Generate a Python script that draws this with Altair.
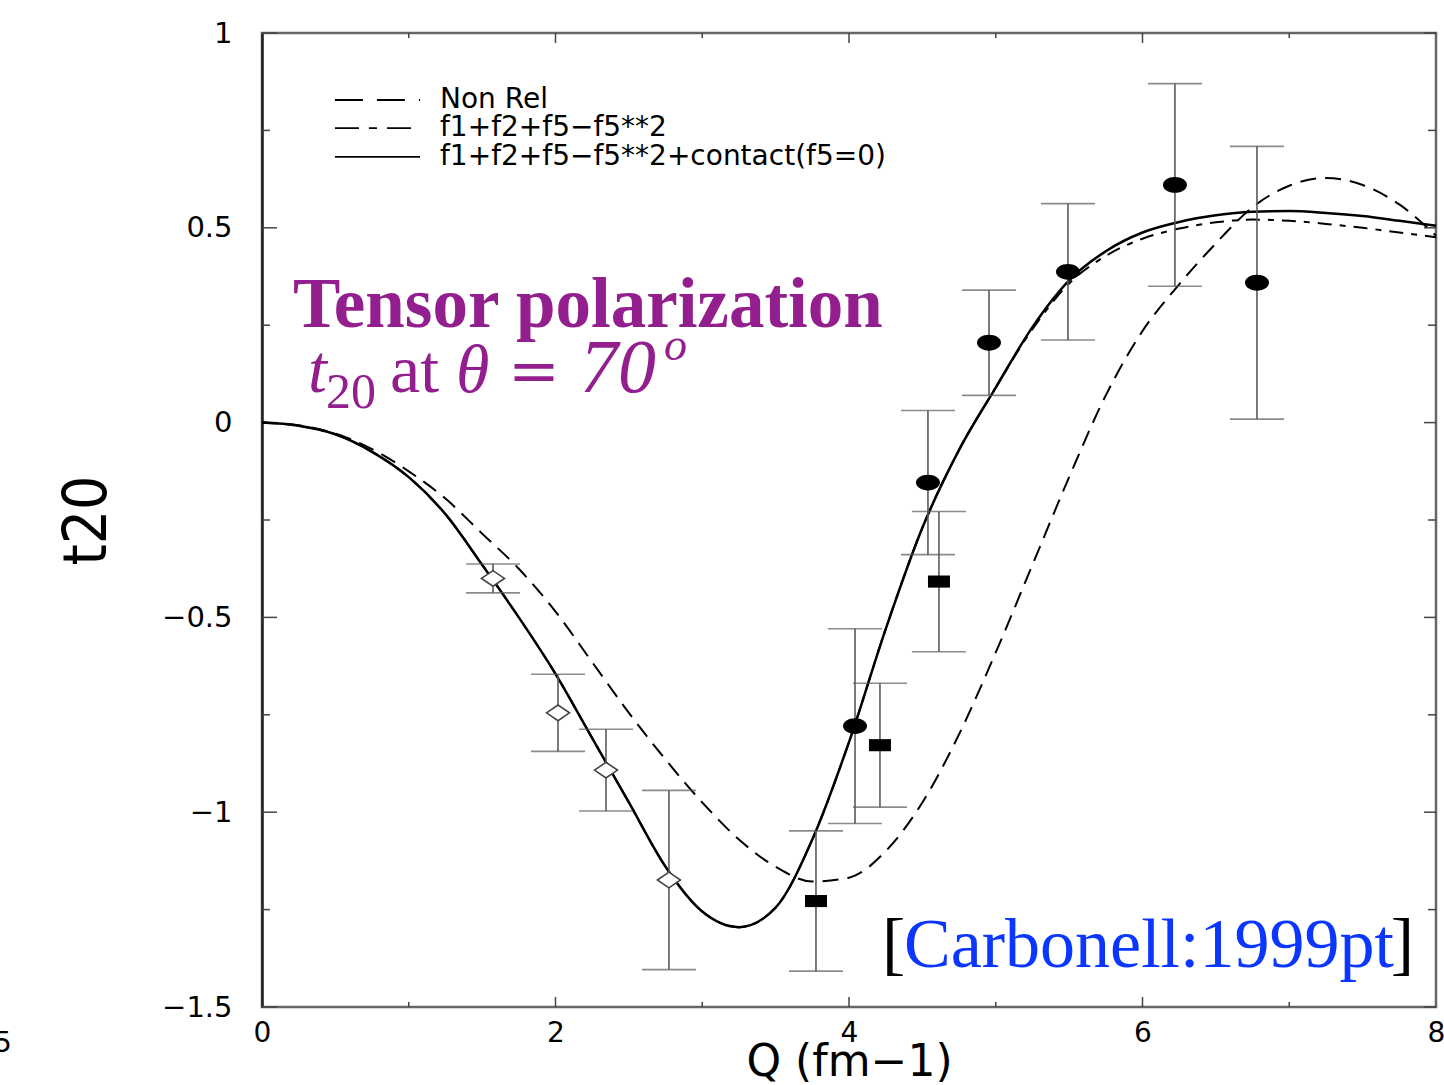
import altair as alt
import pandas as pd

# ---------------- data ----------------
Q = [0.0, 0.25, 0.5, 0.75, 1.0, 1.25, 1.5, 1.75, 2.0, 2.25, 2.5, 2.75, 3.0, 3.25,
     3.5, 3.75, 4.0, 4.25, 4.5, 4.75, 5.0, 5.25, 5.5, 5.75, 6.0, 6.25, 6.5, 6.75,
     7.0, 7.25, 7.5, 7.75, 8.0]

NON_REL = [0.0, -0.007, -0.028, -0.068, -0.125, -0.195, -0.285, -0.375, -0.485,
           -0.615, -0.745, -0.865, -0.975, -1.07, -1.14, -1.178, -1.168, -1.10,
           -0.975, -0.80, -0.59, -0.365, -0.14, 0.07, 0.235, 0.355, 0.46, 0.553,
           0.608, 0.628, 0.61, 0.56, 0.48]

F125 = [0.0, -0.008, -0.03, -0.075, -0.14, -0.235, -0.365, -0.50, -0.645, -0.81,
        -0.975, -1.14, -1.255, -1.295, -1.245, -1.07, -0.82, -0.53, -0.27, -0.07,
        0.09, 0.24, 0.357, 0.428, 0.472, 0.498, 0.514, 0.521, 0.518, 0.51, 0.50,
        0.488, 0.476]

CONTACT = [0.0, -0.008, -0.03, -0.075, -0.14, -0.235, -0.365, -0.50, -0.645, -0.81,
           -0.975, -1.14, -1.255, -1.295, -1.245, -1.07, -0.82, -0.53, -0.27, -0.07,
           0.09, 0.245, 0.365, 0.44, 0.488, 0.515, 0.532, 0.541, 0.543, 0.538, 0.53,
           0.518, 0.505]

DIAM_Q = [1.574, 2.017, 2.344, 2.773]
DIAM_T = [-0.40, -0.745, -0.892, -1.174]
DIAM_E = [0.037, 0.099, 0.105, 0.23]

SQ_Q = [3.775, 4.211, 4.613]
SQ_T = [-1.228, -0.828, -0.408]
SQ_E = [0.18, 0.159, 0.18]

CIR_Q = [4.041, 4.538, 4.954, 5.492, 6.221, 6.780]
CIR_T = [-0.779, -0.154, 0.205, 0.387, 0.610, 0.359]
CIR_E = [0.25, 0.185, 0.135, 0.175, 0.26, 0.35]

LEGEND_LABELS = ["Non Rel", "f1+f2+f5\u2212f5**2", "f1+f2+f5\u2212f5**2+contact(f5=0)"]
X_TICK_LABELS = [0, 2, 4, 6, 8]
Y_TICK_LABELS = [-1.5, -1.0, -0.5, 0.0, 0.5, 1.0]
Y_MINOR = [-1.25, -0.75, -0.25, 0.25, 0.75]
X_MINOR = [1, 3, 5, 7]
X_MAJOR_INNER = [2, 4, 6]

# ---------------- layout ----------------
W, H = 1174, 974
PURPLE = "#931E8E"
BLUE = "#0A36FF"
GREY = "#5a5a5a"

xs = alt.Scale(domain=[0, 8], nice=False, zero=False)
ys = alt.Scale(domain=[-1.5, 1], nice=False, zero=False)

x_axis = alt.Axis(values=X_TICK_LABELS, format="d", ticks=False, domain=False, grid=False,
                  labelFont="DejaVu Sans", labelFontSize=28, labelColor="black",
                  labelPadding=12, labelFlush=False, labelOverlap=False,
                  title="Q (fm\u22121)", titleFont="DejaVu Sans", titleFontSize=44,
                  titleFontWeight="normal", titleColor="black",
                  titleBaseline="alphabetic", titleY=68)
y_axis = alt.Axis(values=Y_TICK_LABELS, format=".1~f", ticks=False, domain=True,
                  domainColor="#222", domainWidth=2.5, grid=False,
                  labelFont="DejaVu Sans", labelFontSize=29, labelColor="black",
                  labelPadding=30, labelFlush=False, labelOverlap=False,
                  title="t20", titleFont="Liberation Sans Narrow, DejaVu Sans Condensed, Liberation Sans",
                  titleFontSize=60, titleFontWeight="normal", titleColor="black",
                  titleAngle=270, titleBaseline="alphabetic", titleAlign="center",
                  titleX=-157, titleY=H / 2)


def X(f):
    return alt.X(f, type="quantitative", scale=xs, axis=x_axis, title="Q (fm\u22121)")


def Y(f):
    return alt.Y(f, type="quantitative", scale=ys, axis=y_axis, title="t20")


curves = pd.DataFrame({"q": Q, "nonrel": NON_REL, "f125": F125, "contact": CONTACT})

nonrel_line = alt.Chart(curves).mark_line(color="black", strokeWidth=2, strokeDash=[16, 9],
                                          interpolate="monotone").encode(x=X("q"), y=Y("nonrel"))
f125_line = alt.Chart(curves).mark_line(color="black", strokeWidth=2, strokeDash=[14, 8, 6, 8],
                                        interpolate="monotone").encode(x=X("q"), y=Y("f125"))
contact_line = alt.Chart(curves).mark_line(color="black", strokeWidth=2.5,
                                           interpolate="monotone").encode(x=X("q"), y=Y("contact"))


def points(qs, ts, es, shape, filled, size):
    df = pd.DataFrame({"q": qs, "t": ts, "e": es})
    base = alt.Chart(df).transform_calculate(lo="datum.t - datum.e", hi="datum.t + datum.e")
    bar = base.mark_rule(color=GREY, strokeWidth=1.6).encode(x=X("q"), y=Y("lo:Q"), y2="hi:Q")
    cap_lo = base.mark_tick(color=GREY, orient="horizontal", size=54, thickness=1.6).encode(
        x=X("q"), y=Y("lo:Q"))
    cap_hi = base.mark_tick(color=GREY, orient="horizontal", size=54, thickness=1.6).encode(
        x=X("q"), y=Y("hi:Q"))
    if filled:
        sym = base.mark_point(shape=shape, filled=True, color="black", size=size, opacity=1)
    else:
        sym = base.mark_point(shape=shape, filled=True, fill="white", stroke="#444",
                              strokeWidth=1.6, size=size, opacity=1)
    sym = sym.encode(x=X("q"), y=Y("t"))
    return [bar, cap_lo, cap_hi, sym]


ELLIPSE = "M-1,0 A1,0.66 0 1,0 1,0 A1,0.66 0 1,0 -1,0 Z"
FLAT_DIAMOND = "M-1,0 L0,-0.68 L1,0 L0,0.68 Z"
FLAT_RECT = "M-1,-0.55 L1,-0.55 L1,0.55 L-1,0.55 Z"

diam_layers = points(DIAM_Q, DIAM_T, DIAM_E, FLAT_DIAMOND, False, 529)
sq_layers = points(SQ_Q, SQ_T, SQ_E, FLAT_RECT, True, 484)
cir_layers = points(CIR_Q, CIR_T, CIR_E, ELLIPSE, True, 576)

# ---------------- inward ticks ----------------
ymaj = pd.DataFrame({"v": Y_TICK_LABELS})
ymin = pd.DataFrame({"v": Y_MINOR})
xmaj = pd.DataFrame({"v": X_MAJOR_INNER})
xmin = pd.DataFrame({"v": X_MINOR})
tick_style = dict(color="#444", strokeWidth=1.5)
ticks = [
    alt.Chart(ymaj).mark_rule(**tick_style).encode(y=Y("v"), x=alt.value(0), x2=alt.value(15)),
    alt.Chart(ymin).mark_rule(**tick_style).encode(y=Y("v"), x=alt.value(0), x2=alt.value(8)),
    alt.Chart(ymaj).mark_rule(**tick_style).encode(y=Y("v"), x=alt.value(W), x2=alt.value(W - 12)),
    alt.Chart(ymin).mark_rule(**tick_style).encode(y=Y("v"), x=alt.value(W), x2=alt.value(W - 8)),
    alt.Chart(xmaj).mark_rule(**tick_style).encode(x=X("v"), y=alt.value(H), y2=alt.value(H - 10)),
    alt.Chart(xmin).mark_rule(**tick_style).encode(x=X("v"), y=alt.value(H), y2=alt.value(H - 5)),
    alt.Chart(xmaj).mark_rule(**tick_style).encode(x=X("v"), y=alt.value(0), y2=alt.value(10)),
    alt.Chart(xmin).mark_rule(**tick_style).encode(x=X("v"), y=alt.value(0), y2=alt.value(5)),
]

# ---------------- legend (inside the frame) ----------------
leg = pd.DataFrame({"x0": [0.497] * 3, "x1": [1.077] * 3, "xt": [1.213] * 3,
                    "y": [0.828, 0.756, 0.682], "label": LEGEND_LABELS})
legend_layers = [
    alt.Chart(leg.iloc[[0]]).mark_rule(color="black", strokeWidth=1.8, strokeDash=[28, 14]).encode(
        x=X("x0"), x2="x1", y=Y("y")),
    alt.Chart(leg.iloc[[1]]).mark_rule(color="black", strokeWidth=1.8, strokeDash=[24, 10, 8, 10]).encode(
        x=X("x0"), x2="x1", y=Y("y")),
    alt.Chart(leg.iloc[[2]]).mark_rule(color="black", strokeWidth=1.8).encode(
        x=X("x0"), x2="x1", y=Y("y")),
    alt.Chart(leg).mark_text(align="left", baseline="middle", font="DejaVu Sans", fontSize=28,
                             color="black").encode(x=X("xt"), y=Y("y"), text="label:N"),
]

# ---------------- annotations ----------------
def txt(df, **kw):
    return alt.Chart(df).mark_text(align=kw.pop("align", "left"), baseline="alphabetic", **kw).encode(
        x=X("x"), y=Y("y"), text="s:N")


ann = [
    txt(pd.DataFrame({"x": [0.211], "y": [0.246], "s": ["Tensor polarization"]}),
        font="Liberation Serif", fontSize=71, fontWeight="bold", color=PURPLE),
    txt(pd.DataFrame({"x": [0.313], "y": [0.0795], "s": ["t"]}),
        font="Liberation Serif", fontSize=68, fontStyle="italic", color=PURPLE),
    txt(pd.DataFrame({"x": [0.436], "y": [0.0385], "s": ["20"]}),
        font="Liberation Serif", fontSize=50, color=PURPLE),
    txt(pd.DataFrame({"x": [0.872], "y": [0.0795], "s": ["at"]}),
        font="Liberation Serif", fontSize=68, color=PURPLE),
    txt(pd.DataFrame({"x": [1.322], "y": [0.0795], "s": ["\u03b8"]}),
        font="Liberation Serif", fontSize=68, fontStyle="italic", color=PURPLE),
    txt(pd.DataFrame({"x": [1.676], "y": [0.0795], "s": ["="]}),
        font="DejaVu Serif", fontSize=62, color=PURPLE),
    txt(pd.DataFrame({"x": [2.167], "y": [0.0795], "s": ["70"]}),
        font="Liberation Serif", fontSize=76, fontStyle="italic", color=PURPLE),
    txt(pd.DataFrame({"x": [2.739], "y": [0.16], "s": ["o"]}),
        font="Liberation Serif", fontSize=46, fontStyle="italic", color=PURPLE),
    txt(pd.DataFrame({"x": [4.225], "y": [-1.397], "s": ["["]}),
        font="Liberation Serif", fontSize=70, color="black"),
    txt(pd.DataFrame({"x": [4.375], "y": [-1.397], "s": ["Carbonell:1999pt"]}),
        font="Liberation Serif", fontSize=70, color=BLUE),
    txt(pd.DataFrame({"x": [7.85], "y": [-1.397], "s": ["]"]}),
        font="Liberation Serif", fontSize=70, color="black", align="right"),
    txt(pd.DataFrame({"x": [-1.826], "y": [-1.615], "s": ["5"]}),
        font="DejaVu Sans", fontSize=28, color="black"),
]

layers = (ticks + [nonrel_line, f125_line, contact_line] + diam_layers + sq_layers + cir_layers
          + legend_layers + ann)

chart = alt.layer(*layers).properties(
    width=W, height=H,
    autosize=alt.AutoSizeParams(type="none"),
    padding={"left": 262, "top": 33, "right": 8, "bottom": 78},
    background="white",
).configure_view(stroke="#666", strokeWidth=2.5)

chart.save("out.html", embed_options={"renderer": "svg", "actions": False})
